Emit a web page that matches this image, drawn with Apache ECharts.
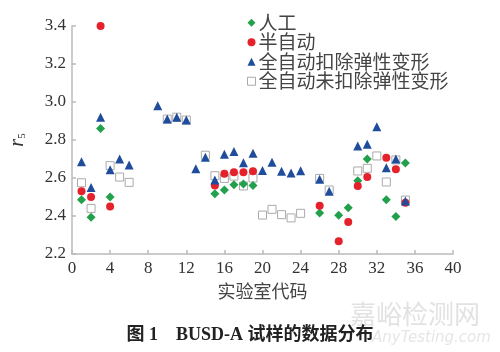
<!DOCTYPE html>
<html>
<head>
<meta charset="utf-8">
<script src="https://cdn.jsdelivr.net/npm/echarts@6/dist/echarts.min.js"></script>
<style>
html,body{margin:0;padding:0;background:#fff;}
#c{width:500px;height:352px;}
</style>
</head>
<body>
<div id="c"></div>
<script>
// ---- data ----
const seriesNames = ['人工', '半自动', '全自动扣除弹性变形', '全自动未扣除弹性变形'];
const xTicks = [0, 4, 8, 12, 16, 20, 24, 28, 32, 36, 40];
const yTicks = [2.2, 2.4, 2.6, 2.8, 3.0, 3.2, 3.4];

const manualLabs = [1, 2, 3, 4, 15, 16, 17, 18, 19, 26, 28, 29, 30, 31, 33, 34, 35];
const manualVals = [2.486, 2.393, 2.86, 2.50, 2.517, 2.537, 2.565, 2.568, 2.56, 2.416, 2.404, 2.444, 2.586, 2.70, 2.486, 2.398, 2.679];

const semiLabs = [1, 2, 3, 4, 15, 16, 17, 18, 19, 26, 28, 29, 30, 31, 33, 34, 35];
const semiVals = [2.53, 2.50, 3.40, 2.45, 2.56, 2.623, 2.63, 2.63, 2.635, 2.454, 2.267, 2.368, 2.558, 2.605, 2.707, 2.646, 2.47];

const autoDedLabs = [1, 2, 3, 4, 5, 6, 9, 10, 11, 12, 13, 14, 15, 16, 17, 18, 19, 20, 21, 22, 23, 24, 26, 27, 30, 31, 32, 33, 34, 35];
const autoDedVals = [2.686, 2.55, 2.92, 2.644, 2.70, 2.668, 2.98, 2.91, 2.92, 2.905, 2.649, 2.709, 2.59, 2.725, 2.74, 2.68, 2.73, 2.64, 2.683, 2.635, 2.626, 2.638, 2.593, 2.53, 2.768, 2.777, 2.87, 2.654, 2.70, 2.479];

const autoRawLabs = [1, 2, 4, 5, 6, 10, 11, 12, 14, 15, 16, 17, 18, 19, 20, 21, 22, 23, 24, 26, 27, 30, 31, 32, 33, 34, 35];
const autoRawVals = [2.575, 2.44, 2.665, 2.605, 2.577, 2.91, 2.92, 2.905, 2.72, 2.612, 2.598, 2.61, 2.558, 2.60, 2.405, 2.435, 2.407, 2.39, 2.414, 2.598, 2.537, 2.637, 2.651, 2.716, 2.579, 2.695, 2.484];

const pair = (xs, ys) => xs.map((x, i) => [x, ys[i]]);

const chart = echarts.init(document.getElementById('c'), null, {renderer: 'canvas'});
const serif = "'Liberation Serif', 'DejaVu Serif', serif";
const cjk = "'Noto Sans CJK SC', sans-serif";

chart.setOption({
  animation: false,
  backgroundColor: '#fff',
  grid: {left: 71, right: 47, top: 26, bottom: 98},
  legend: {
    orient: 'vertical',
    left: 247,
    top: 13,
    itemWidth: 8,
    itemHeight: 8,
    itemGap: 0,
    padding: 0,
    data: [
      {name: seriesNames[0], icon: 'diamond'},
      {name: seriesNames[1], icon: 'circle'},
      {name: seriesNames[2], icon: 'triangle'},
      {name: seriesNames[3], icon: 'rect', itemStyle: {color: '#fff', borderColor: '#aaa', borderWidth: 1}}
    ],
    textStyle: {fontFamily: cjk, fontSize: 19, color: '#444', lineHeight: 19.5, padding: [0, 0, 0, -2]}
  },
  xAxis: {
    type: 'value',
    min: xTicks[0],
    max: xTicks[xTicks.length - 1],
    interval: 4,
    name: '实验室代码',
    nameLocation: 'middle',
    nameGap: 27,
    nameTextStyle: {fontFamily: cjk, fontSize: 18, color: '#444'},
    axisLine: {lineStyle: {color: '#bbb', width: 1.5}},
    axisTick: {inside: true, length: 4, lineStyle: {color: '#bbb', width: 1.5}},
    axisLabel: {fontFamily: serif, fontSize: 17, color: '#333', margin: 6},
    splitLine: {show: false}
  },
  yAxis: {
    type: 'value',
    min: yTicks[0],
    max: yTicks[yTicks.length - 1],
    interval: 0.2,
    name: '{r|r}{s|5}',
    nameLocation: 'middle',
    nameGap: 44,
    nameRotate: 90,
    nameTextStyle: {
      rich: {
        r: {fontFamily: serif, fontStyle: 'italic', fontSize: 20, color: '#333'},
        s: {fontFamily: serif, fontSize: 11, color: '#333', padding: [8, 0, 0, 0]}
      }
    },
    axisLine: {show: true, lineStyle: {color: '#bbb', width: 1.5}},
    axisTick: {show: true, inside: true, length: 4, lineStyle: {color: '#bbb', width: 1.5}},
    axisLabel: {fontFamily: serif, fontSize: 17, color: '#333', margin: 6,
      formatter: v => v.toFixed(1)},
    splitLine: {show: false}
  },
  series: [
    {
      name: seriesNames[3], type: 'scatter', z: 1,
      symbol: 'rect', symbolSize: 8,
      itemStyle: {color: '#fff', borderColor: '#aaa', borderWidth: 1, opacity: 1},
      data: pair(autoRawLabs, autoRawVals)
    },
    {
      name: seriesNames[0], type: 'scatter', z: 2,
      symbol: 'diamond', symbolSize: 9,
      itemStyle: {color: '#22a04b', opacity: 1},
      data: pair(manualLabs, manualVals)
    },
    {
      name: seriesNames[1], type: 'scatter', z: 3,
      symbol: 'circle', symbolSize: 8,
      itemStyle: {color: '#e5212b', opacity: 1},
      data: pair(semiLabs, semiVals)
    },
    {
      name: seriesNames[2], type: 'scatter', z: 4,
      symbol: 'triangle', symbolSize: 9,
      itemStyle: {color: '#1f4d9c', opacity: 1},
      data: pair(autoDedLabs, autoDedVals)
    }
  ],
  graphic: [
    {
      type: 'text', left: 350, top: 301, silent: true,
      style: {text: '嘉峪检测网', font: "26px 'Noto Sans CJK SC'", fill: '#e2e2e2'}
    },
    {
      type: 'text', left: 372, top: 331, silent: true,
      style: {text: 'AnyTesting.com', font: "italic 15px 'DejaVu Sans'", fill: '#e6e6e6'}
    },
    {
      type: 'text', left: 'center', top: 326, silent: true, z: 10,
      style: {text: '图 1    BUSD-A 试样的数据分布', font: "bold 18px 'Liberation Serif', 'Noto Sans CJK SC'", fill: '#222'}
    }
  ]
});
</script>
</body>
</html>
